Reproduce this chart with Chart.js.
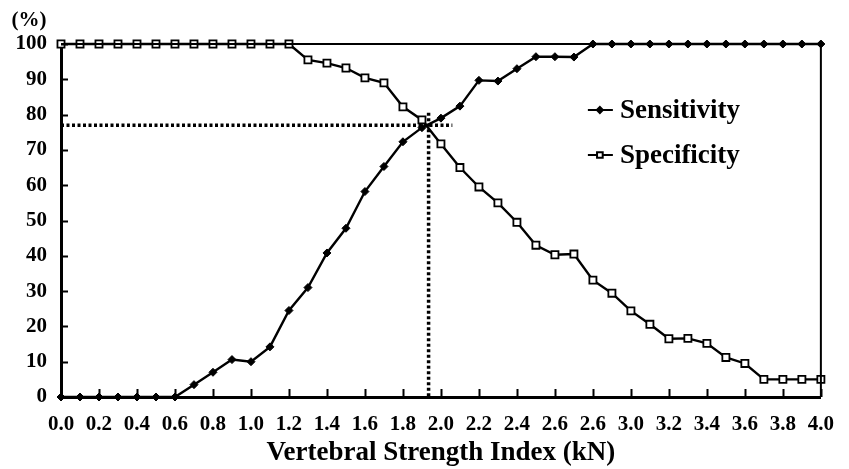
<!DOCTYPE html>
<html>
<head>
<meta charset="utf-8">
<script src="https://cdn.jsdelivr.net/npm/chart.js@4.4.0/dist/chart.umd.min.js"></script>
<style>
  body { margin: 0; background: #fff; }
  #wrap { width: 849px; height: 469px; }
</style>
</head>
<body>
<div id="wrap"><canvas id="rocChart" width="849" height="469"></canvas></div>
<script>
// x positions (kN), one per measured point
const categories = ['0.0','0.1','0.2','0.3','0.4','0.5','0.6','0.7','0.8','0.9',
                    '1.0','1.1','1.2','1.3','1.4','1.5','1.6','1.7','1.8','1.9',
                    '2.0','2.1','2.2','2.3','2.4','2.5','2.6','2.7','2.8','2.9',
                    '3.0','3.1','3.2','3.3','3.4','3.5','3.6','3.7','3.8','3.9','4.0'];

// Sensitivity (%)
const sensitivity = [0, 0, 0, 0, 0, 0, 0, 3.5, 7, 10.6,
                     10, 14.2, 24.5, 31, 40.8, 47.8, 58.2, 65.3, 72.3, 76.3,
                     79, 82.4, 89.7, 89.5, 93, 96.4, 96.4, 96.3, 100, 100,
                     100, 100, 100, 100, 100, 100, 100, 100, 100, 100, 100];

// Specificity (%)
const specificity = [100, 100, 100, 100, 100, 100, 100, 100, 100, 100,
                     100, 100, 100, 95.5, 94.6, 93.2, 90.4, 89, 82.2, 78.5,
                     71.7, 65, 59.5, 55, 49.5, 43, 40.3, 40.5, 33.1, 29.4,
                     24.4, 20.6, 16.5, 16.6, 15.2, 11.2, 9.5, 5, 5, 5, 5];

// x tick labels as printed (the original repeats 2.6)
const tickLabels = ['0.0','0.2','0.4','0.6','0.8','1.0','1.2','1.4','1.6','1.8',
                    '2.0','2.2','2.4','2.6','2.6','3.0','3.2','3.4','3.6','3.8','4.0'];

// cut-off marked by the dotted lines
const cutoffX = 1.935;
const cutoffY = 77;
const cutoffLineEnd = 2.06;
const cutoffLineTop = 80.5;

const FONT = '"Liberation Serif", "Times New Roman", serif';

function toPoints(values) {
    return categories.map((c, i) => ({ x: parseFloat(c), y: values[i] }));
}

// inward tick marks + top/right frame lines
const frameTicks = {
    id: 'frameTicks',
    afterDatasetsDraw(chart) {
        const ctx = chart.ctx;
        const a = chart.chartArea;
        const xs = chart.scales.x, ys = chart.scales.y;
        ctx.save();
        ctx.strokeStyle = '#000';
        ctx.lineWidth = 2;
        ctx.beginPath();
        ctx.moveTo(a.left, a.top);
        ctx.lineTo(a.right, a.top);
        ctx.lineTo(a.right, a.bottom);
        ctx.stroke();
        ctx.beginPath();
        xs.ticks.forEach(t => {
            const px = Math.round(xs.getPixelForValue(t.value)) + 0.5;
            ctx.moveTo(px, a.bottom);
            ctx.lineTo(px, a.bottom - 8);
        });
        ys.ticks.forEach(t => {
            const py = Math.round(ys.getPixelForValue(t.value)) + 0.5;
            ctx.moveTo(a.left, py);
            ctx.lineTo(a.left + 7, py);
        });
        ctx.stroke();
        ctx.restore();
    }
};

// legend inside the plot + "(%)" unit label
const innerLegend = {
    id: 'innerLegend',
    afterDraw(chart) {
        const ctx = chart.ctx;
        const a = chart.chartArea;
        ctx.save();
        [0, 1].forEach((di, r) => {
            const ds = chart.data.datasets[di];
            const y = a.top + 66 + r * 45;
            const x0 = a.right - 233;
            ctx.strokeStyle = '#000';
            ctx.lineWidth = 2;
            ctx.beginPath();
            ctx.moveTo(x0, y);
            ctx.lineTo(x0 + 25, y);
            ctx.stroke();
            ctx.fillStyle = ds.pointBackgroundColor;
            Chart.helpers.drawPoint(ctx, {
                pointStyle: ds.pointStyle,
                radius: ds.pointRadius - 1,
                borderWidth: ds.pointBorderWidth,
                rotation: 0
            }, x0 + 12, y);
            ctx.fillStyle = '#000';
            ctx.font = 'bold 27px ' + FONT;
            ctx.textBaseline = 'middle';
            ctx.textAlign = 'left';
            ctx.fillText(ds.label, x0 + 32, y + 1);
        });
        ctx.font = 'bold 21px ' + FONT;
        ctx.textAlign = 'center';
        ctx.textBaseline = 'middle';
        ctx.fillText('(%)', 29, 21);
        ctx.restore();
    }
};

const data = {
    datasets: [
        {
            label: 'Sensitivity',
            data: toPoints(sensitivity),
            borderColor: '#000',
            borderWidth: 2.4,
            pointStyle: 'rectRot',
            pointRadius: 4,
            pointBackgroundColor: '#000',
            pointBorderColor: '#000',
            pointBorderWidth: 1,
            tension: 0,
            clip: false,
            order: 2
        },
        {
            label: 'Specificity',
            data: toPoints(specificity),
            borderColor: '#000',
            borderWidth: 2.4,
            pointStyle: 'rect',
            pointRadius: 5,
            pointBackgroundColor: '#fff',
            pointBorderColor: '#000',
            pointBorderWidth: 1.8,
            tension: 0,
            clip: false,
            order: 1
        },
        {
            label: 'cutoff-h',
            data: [{ x: 0, y: cutoffY }, { x: cutoffLineEnd, y: cutoffY }],
            borderColor: '#000',
            borderWidth: 3.5,
            borderDash: [3, 2.5],
            pointRadius: 0,
            clip: false,
            order: 3
        },
        {
            label: 'cutoff-v',
            data: [{ x: cutoffX, y: cutoffLineTop }, { x: cutoffX, y: 0 }],
            borderColor: '#000',
            borderWidth: 3.5,
            borderDash: [3, 2.5],
            pointRadius: 0,
            clip: false,
            order: 3
        }
    ]
};

const config = {
    type: 'line',
    data: data,
    options: {
        responsive: false,
        animation: false,
        layout: { padding: { left: 0, top: 44, right: 28, bottom: 0 } },
        plugins: {
            legend: { display: false },
            tooltip: { enabled: false }
        },
        scales: {
            x: {
                type: 'linear',
                min: 0,
                max: 4,
                grid: { display: false, drawTicks: false },
                border: { display: true, color: '#000', width: 3 },
                ticks: {
                    stepSize: 0.2,
                    autoSkip: false,
                    maxRotation: 0,
                    padding: 15,
                    color: '#000',
                    font: { family: FONT, size: 21, weight: 'bold' },
                    callback: (value, index) => tickLabels[index]
                },
                title: {
                    display: true,
                    text: 'Vertebral Strength Index (kN)',
                    color: '#000',
                    padding: { top: 0, bottom: 0 },
                    font: { family: FONT, size: 27, weight: 'bold' }
                },
                afterFit: s => { s.height = 72; }
            },
            y: {
                min: 0,
                max: 100,
                grid: { display: false, drawTicks: false },
                border: { display: true, color: '#000', width: 3 },
                ticks: {
                    stepSize: 10,
                    padding: 14,
                    color: '#000',
                    font: { family: FONT, size: 21, weight: 'bold' }
                },
                afterFit: s => { s.width = 61; }
            }
        }
    },
    plugins: [frameTicks, innerLegend]
};

// Create and render the chart
const rocChart = new Chart(document.getElementById('rocChart'), config);
</script>
</body>
</html>
